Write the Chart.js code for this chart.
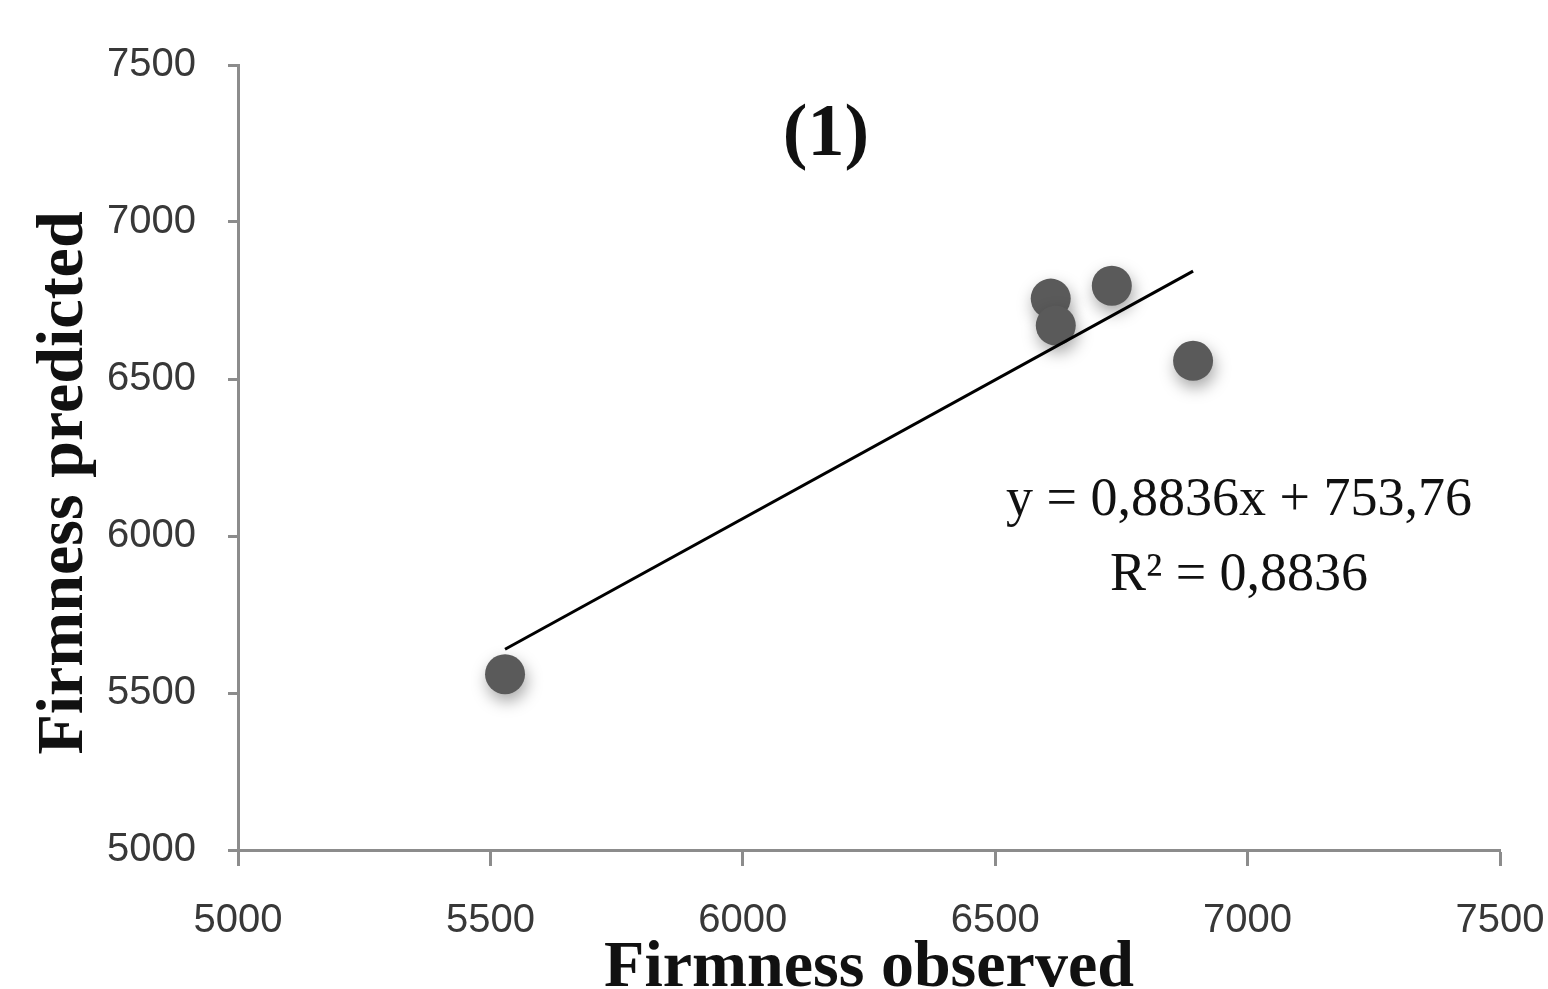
<!DOCTYPE html>
<html>
<head>
<meta charset="utf-8">
<script src="https://cdn.jsdelivr.net/npm/chart.js@4/dist/chart.umd.min.js"></script>
<style>
html,body{margin:0;padding:0;background:#fff;}
#wrap{width:1548px;height:989px;position:relative;}
canvas{display:block;}
</style>
</head>
<body>
<div id="wrap"><canvas id="c" width="1548" height="989"></canvas></div>
<script>
// ---- data ----
const observed  = [5529, 6610, 6620, 6731, 6892];
const predicted = [5560, 6756, 6670, 6797, 6558];
const xTickValues = [5000, 5500, 6000, 6500, 7000, 7500];
const yTickValues = [5000, 5500, 6000, 6500, 7000, 7500];
const slope = 0.8836;
const intercept = 753.76;
const panelLabel = '(1)';
const equationLines = ['y = 0,8836x + 753,76', 'R\u00B2 = 0,8836'];
const xTitle = 'Firmness observed';
const yTitle = 'Firmness predicted';

const points = observed.map((x, i) => ({x: x, y: predicted[i]}));
const xMin = Math.min(...observed), xMax = Math.max(...observed);
const trend = [xMin, xMax].map(x => ({x: x, y: slope * x + intercept}));

const axisGray = '#8c8c8c';
const tickFont = {family: 'Liberation Sans', size: 40};
const titleFont = {family: 'Liberation Serif', size: 66, weight: 'bold'};

const shadowPlugin = {
  id: 'pointShadow',
  beforeDatasetDraw(chart, args) {
    if (args.meta.type === 'scatter') {
      const c = chart.ctx;
      c.save();
      c.shadowColor = 'rgba(0,0,0,0.35)';
      c.shadowBlur = 16;
      c.shadowOffsetX = 2;
      c.shadowOffsetY = 7;
    }
  },
  afterDatasetDraw(chart, args) {
    if (args.meta.type === 'scatter') chart.ctx.restore();
  }
};

const textPlugin = {
  id: 'annotText',
  afterDraw(chart) {
    const c = chart.ctx;
    c.save();
    c.fillStyle = '#111';
    c.textAlign = 'center';
    c.textBaseline = 'alphabetic';
    c.font = 'bold 74px "Liberation Serif"';
    c.fillText(panelLabel, 826, 155);
    c.font = '54px "Liberation Serif"';
    c.fillText(equationLines[0], 1239, 515);
    c.fillText(equationLines[1], 1239, 590);
    // y-axis title
    c.font = 'bold 66px "Liberation Serif"';
    c.translate(82, 483);
    c.rotate(-Math.PI / 2);
    c.fillText(yTitle, 0, 0);
    c.restore();
  }
};

new Chart(document.getElementById('c'), {
  data: {
    datasets: [
      {
        type: 'scatter',
        data: points,
        backgroundColor: '#5a5a5a',
        borderWidth: 0,
        pointRadius: 20,
        pointHoverRadius: 20,
        order: 2
      },
      {
        type: 'line',
        data: trend,
        borderColor: '#000',
        borderWidth: 3,
        pointRadius: 0,
        fill: false,
        order: 1
      }
    ]
  },
  options: {
    responsive: false,
    animation: false,
    devicePixelRatio: 1,
    layout: {padding: {left: 0, right: 0, top: 65, bottom: 0}},
    plugins: {legend: {display: false}, tooltip: {enabled: false}},
    scales: {
      x: {
        type: 'linear',
        position: 'bottom',
        min: 5000, max: 7500,
        afterBuildTicks(s) { s.ticks = xTickValues.map(v => ({value: v})); },
        afterFit(s) { s.height = 139; s.paddingRight = 48; s.paddingLeft = 0; },
        ticks: {font: tickFont, color: '#383838', padding: 31, maxRotation: 0, autoSkip: false,
                callback: v => String(v)},
        grid: {display: true, drawOnChartArea: false, drawTicks: true, tickLength: 16, tickColor: axisGray, tickWidth: 3},
        border: {display: true, color: axisGray, width: 3},
        title: {display: true, text: xTitle, font: Object.assign({}, titleFont, {lineHeight: 0.6}), color: '#111', padding: {top: 0, bottom: 0}}
      },
      y: {
        type: 'linear',
        position: 'left',
        min: 5000, max: 7500,
        afterBuildTicks(s) { s.ticks = yTickValues.map(v => ({value: v})); },
        afterFit(s) { s.width = 238; },
        ticks: {font: tickFont, color: '#383838', padding: 32, autoSkip: false,
                callback: v => String(v)},
        grid: {display: true, drawOnChartArea: false, drawTicks: true, tickLength: 10, tickColor: axisGray, tickWidth: 3},
        border: {display: true, color: axisGray, width: 3},
        title: {display: false, text: yTitle}
      }
    }
  },
  plugins: [shadowPlugin, textPlugin]
});
</script>
</body>
</html>
